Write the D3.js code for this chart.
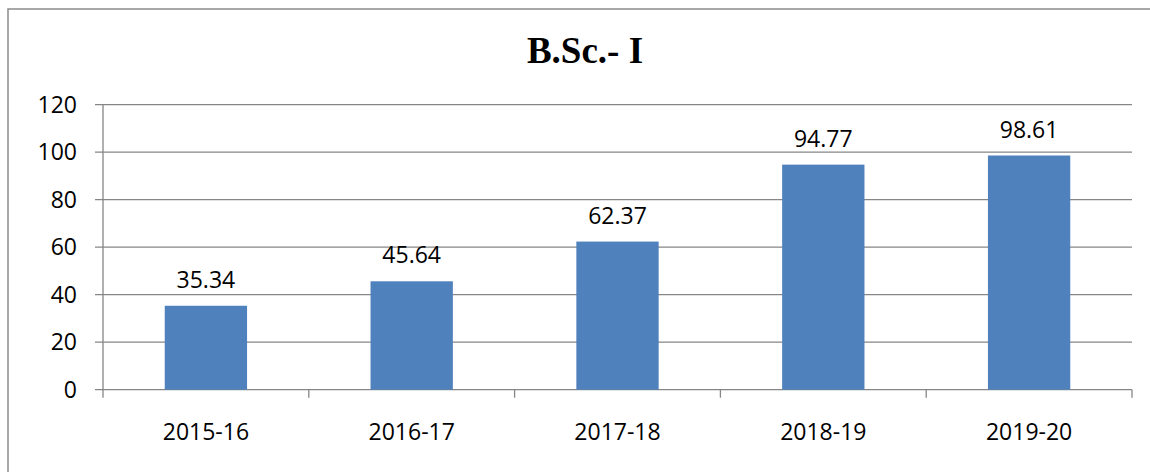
<!DOCTYPE html>
<html>
<head>
<meta charset="utf-8">
<script src="https://cdn.jsdelivr.net/npm/d3@7"></script>
<style>
  body { margin: 0; background: #fff; }
  svg { display: block; }
</style>
</head>
<body>
<script>
const TITLE = 'B.Sc.- I';
const years = ['2015-16', '2016-17', '2017-18', '2018-19', '2019-20'];
const results = [35.34, 45.64, 62.37, 94.77, 98.61];
const yTicks = [0, 20, 40, 60, 80, 100, 120];

const W = 1150, H = 472;
const plot = { left: 103, right: 1132, top: 104.7, bottom: 389.7 };
const AXIS_GREY = '#868686';
const LABEL_FONT = '"Open Sans", sans-serif';

const svg = d3.select('body').append('svg')
  .attr('width', W)
  .attr('height', H);

// outer frame (clipped on right & bottom like the source)
svg.append('rect')
  .attr('x', 8).attr('y', 9)
  .attr('width', W + 20).attr('height', H + 20)
  .attr('fill', 'none')
  .attr('stroke', '#8c8c8c')
  .attr('stroke-width', 1.5);

// title
svg.append('text')
  .attr('x', 585).attr('y', 63)
  .attr('text-anchor', 'middle')
  .style('font-family', '"Liberation Serif", "Times New Roman", serif')
  .style('font-weight', 'bold')
  .style('font-size', '37px')
  .text(TITLE);

const x = d3.scaleBand()
  .domain(years)
  .range([plot.left, plot.right])
  .paddingInner(0.6)
  .paddingOuter(0.3);

const y = d3.scaleLinear()
  .domain([0, 120])
  .range([plot.bottom, plot.top]);

// gridlines
svg.append('g')
  .selectAll('line')
  .data(yTicks)
  .join('line')
    .attr('x1', plot.left - 8)
    .attr('x2', plot.right)
    .attr('y1', d => y(d))
    .attr('y2', d => y(d))
    .attr('stroke', AXIS_GREY)
    .attr('stroke-width', 1.3);

// y axis labels
svg.append('g')
  .selectAll('text')
  .data(yTicks)
  .join('text')
    .attr('x', 77)
    .attr('y', d => y(d))
    .attr('dy', '0.35em')
    .attr('text-anchor', 'end')
    .style('font-family', LABEL_FONT)
    .style('font-size', '23px')
    .text(d => d);

// y axis line
svg.append('line')
  .attr('x1', plot.left).attr('x2', plot.left)
  .attr('y1', plot.top).attr('y2', plot.bottom + 8)
  .attr('stroke', AXIS_GREY)
  .attr('stroke-width', 1.3);

// x tick marks at band boundaries
const step = x.step();
const boundaries = d3.range(years.length + 1).map(i => plot.left + i * step);
svg.append('g')
  .selectAll('line')
  .data(boundaries.slice(1))
  .join('line')
    .attr('x1', d => d).attr('x2', d => d)
    .attr('y1', plot.bottom).attr('y2', plot.bottom + 8)
    .attr('stroke', AXIS_GREY)
    .attr('stroke-width', 1.3);

// bars
svg.append('g')
  .selectAll('rect')
  .data(results)
  .join('rect')
    .attr('x', (d, i) => x(years[i]))
    .attr('y', d => y(d))
    .attr('width', x.bandwidth())
    .attr('height', d => y(0) - y(d))
    .attr('fill', '#4f81bd');

// value labels
svg.append('g')
  .selectAll('text')
  .data(results)
  .join('text')
    .attr('x', (d, i) => x(years[i]) + x.bandwidth() / 2)
    .attr('y', d => y(d) - 18)
    .attr('text-anchor', 'middle')
    .style('font-family', LABEL_FONT)
    .style('font-size', '23px')
    .text(d => d.toFixed(2));

// category labels
svg.append('g')
  .selectAll('text')
  .data(years)
  .join('text')
    .attr('x', d => x(d) + x.bandwidth() / 2)
    .attr('y', 440)
    .attr('text-anchor', 'middle')
    .style('font-family', LABEL_FONT)
    .style('font-size', '23px')
    .text(d => d);
</script>
</body>
</html>
